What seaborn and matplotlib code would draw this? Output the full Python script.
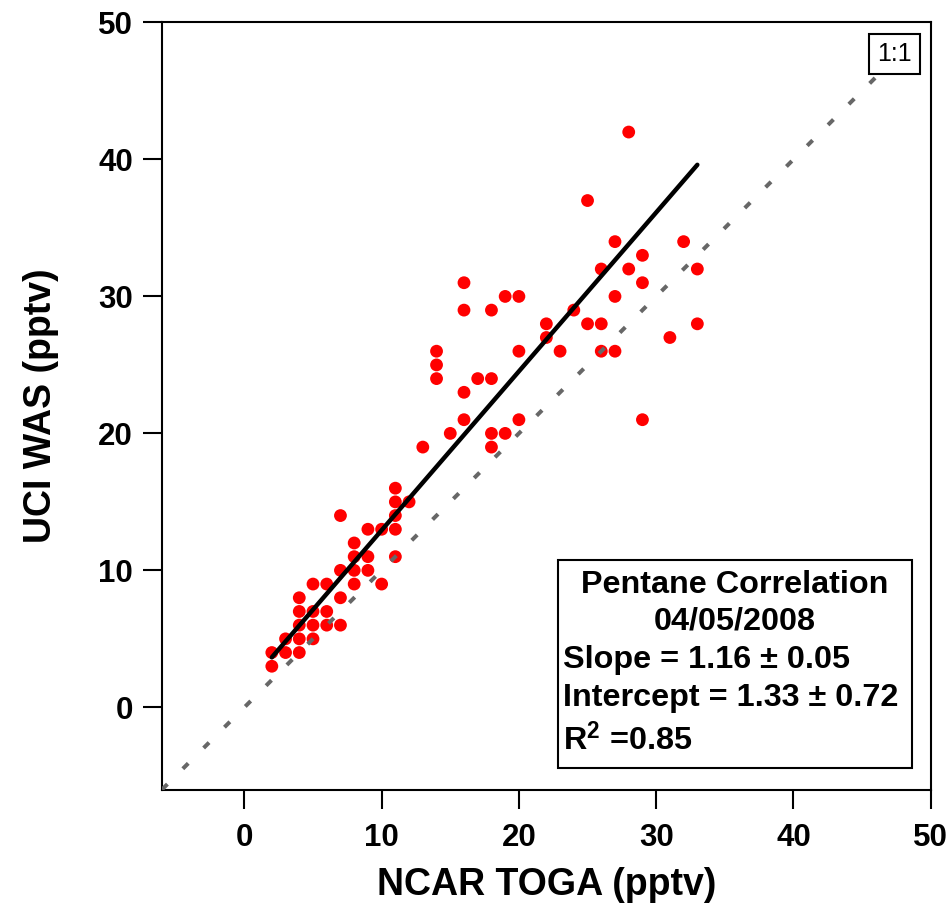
import matplotlib
matplotlib.use('Agg')
import matplotlib.pyplot as plt
from matplotlib.patches import Rectangle
import seaborn as sns
import pandas as pd

# --- Dati ---
toga_pptv = [2, 2, 3, 3, 4, 4, 4, 4, 4, 5, 5, 5, 5, 6, 6, 6, 7, 7, 7, 7,
             8, 8, 8, 8, 9, 9, 9, 10, 10, 11, 11, 11, 11, 11, 12, 13, 14, 14, 14, 15,
             16, 16, 16, 16, 17, 18, 18, 18, 18, 19, 19, 20, 20, 20, 22, 22, 23, 24, 25, 25,
             26, 26, 26, 27, 27, 27, 28, 28, 29, 29, 29, 31, 32, 33, 33]
was_pptv = [3, 4, 4, 5, 4, 5, 6, 7, 8, 5, 6, 7, 9, 6, 7, 9, 6, 8, 10, 14,
            9, 10, 11, 12, 10, 11, 13, 9, 13, 11, 13, 14, 15, 16, 15, 19, 24, 25, 26, 20,
            21, 23, 29, 31, 24, 19, 20, 24, 29, 20, 30, 21, 26, 30, 27, 28, 26, 29, 28, 37,
            26, 28, 32, 26, 30, 34, 32, 42, 21, 31, 33, 27, 34, 28, 32]

slope, slope_err = 1.16, 0.05
intercept, intercept_err = 1.33, 0.72
r2 = 0.85
fit_range = [2, 33]
one_to_one_range = [-6, 50]

df = pd.DataFrame({'toga': toga_pptv, 'was': was_pptv})
df_fit = pd.DataFrame({'x': fit_range})
df_fit['y'] = slope * df_fit['x'] + intercept
df_11 = pd.DataFrame({'x': one_to_one_range, 'y': one_to_one_range})

# --- Stile ---
sns.set_style('ticks')
plt.rcParams['font.family'] = ['Liberation Sans', 'DejaVu Sans']
plt.rcParams['font.weight'] = 'bold'
plt.rcParams['text.color'] = 'black'
plt.rcParams['axes.labelcolor'] = 'black'
plt.rcParams['xtick.color'] = 'black'
plt.rcParams['ytick.color'] = 'black'
plt.rcParams['mathtext.fontset'] = 'custom'
plt.rcParams['mathtext.rm'] = 'Liberation Sans:bold'
plt.rcParams['mathtext.bf'] = 'Liberation Sans:bold'
plt.rcParams['mathtext.default'] = 'bf'

fig = plt.figure(figsize=(9.53, 9.1), dpi=100)
ax = fig.add_axes([0.170, 0.1324, 0.8066, 0.8429])

sns.scatterplot(data=df, x='toga', y='was', color='#ff0000', s=85,
                edgecolor='none', zorder=2, ax=ax)
sns.lineplot(data=df_11, x='x', y='y', color='#676767', lw=2.9,
             linestyle=(0, (1.9, 5.4)), zorder=3, ax=ax)
sns.lineplot(data=df_fit, x='x', y='y', color='black', lw=3.2,
             zorder=4, ax=ax)

ax.set_xlim(-6, 50)
ax.set_ylim(-6, 50)
ax.set_xticks(range(0, 51, 10))
ax.set_yticks(range(0, 51, 10))
for s in ax.spines.values():
    s.set_linewidth(1.5)
    s.set_color('black')
ax.tick_params(direction='out', length=14, width=1.5, labelsize=22.5,
               colors='black')
ax.tick_params(axis='x', pad=10)
ax.tick_params(axis='y', pad=7)

ax.set_xlabel('NCAR TOGA (pptv)', fontsize=27, fontweight='bold', labelpad=10)
ax.set_ylabel('UCI WAS (pptv)', fontsize=27, fontweight='bold', labelpad=28)

# --- Riquadro statistiche ---
ax.add_patch(Rectangle((0.515, 0.028), 0.4607, 0.271, transform=ax.transAxes,
                       fill=False, edgecolor='black', lw=1.5, zorder=5))
fs_box = 23.3
ax.text(0.745, 0.2666, 'Pentane Correlation', transform=ax.transAxes,
        ha='center', va='center', fontsize=fs_box, fontweight='bold')
ax.text(0.745, 0.2184, '04/05/2008', transform=ax.transAxes,
        ha='center', va='center', fontsize=fs_box, fontweight='bold')
ax.text(0.522, 0.1688, f'Slope = {slope:.2f} \u00b1 {slope_err:.2f}',
        transform=ax.transAxes, ha='left', va='center', fontsize=fs_box,
        fontweight='bold')
ax.text(0.522, 0.1193, f'Intercept = {intercept:.2f} \u00b1 {intercept_err:.2f}',
        transform=ax.transAxes, ha='left', va='center', fontsize=fs_box,
        fontweight='bold')
ax.text(0.522, 0.0645, f'R$^2$ ={r2:.2f}', transform=ax.transAxes,
        ha='left', va='center', fontsize=fs_box, fontweight='bold')

# --- Etichetta 1:1 ---
ax.text(0.953, 0.959, '1:1', transform=ax.transAxes, ha='center', va='center',
        fontsize=18, fontweight='normal', zorder=6,
        bbox=dict(boxstyle='square,pad=0.32', facecolor='white',
                  edgecolor='black', lw=1.5))

fig.savefig('out.png', dpi=100)
